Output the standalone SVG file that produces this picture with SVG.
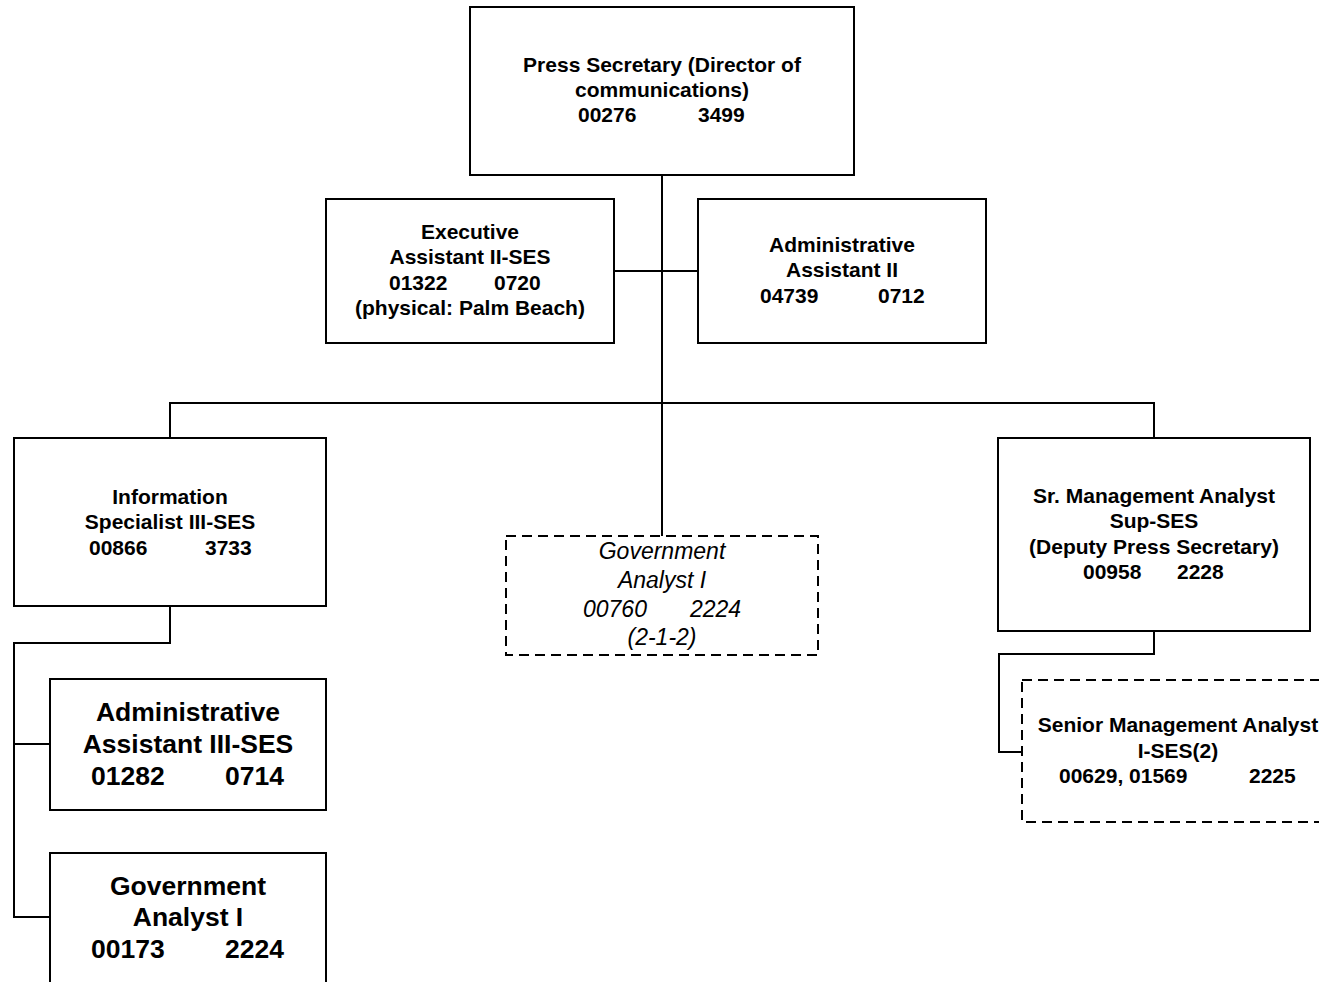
<svg xmlns="http://www.w3.org/2000/svg" width="1319" height="982" viewBox="0 0 1319 982">
<style>
.box{fill:#fff;stroke:#000;stroke-width:2}
.dash{fill:#fff;stroke:#000;stroke-width:2;stroke-dasharray:10 6}
.ln{fill:none;stroke:#000;stroke-width:2}
text{font-family:"Liberation Sans",Arial,sans-serif;fill:#000}
.b{font-weight:bold;font-size:21px;text-anchor:middle}
.bl{font-weight:bold;font-size:26.5px;text-anchor:middle}
.it{font-style:italic;font-size:23px;text-anchor:middle}
.s{text-anchor:start}
</style>
<rect width="1319" height="982" fill="#fff"/>
<g id="connectors">
<path class="ln" d="M662 175V536"/>
<path class="ln" d="M614 271H698"/>
<path class="ln" d="M170 438V403H1154V438"/>
<path class="ln" d="M170 606V643H14V917H50"/>
<path class="ln" d="M14 744H50"/>
<path class="ln" d="M1154 631V654H999V752H1022"/>
</g>
<g id="press-secretary">
<rect class="box" x="470" y="7" width="384" height="168"/>
<text class="b" x="662" y="72">Press Secretary (Director of</text>
<text class="b" x="662" y="97">communications)</text>
<text class="b s" y="122"><tspan x="578">00276</tspan><tspan x="698">3499</tspan></text>
</g>
<g id="executive-assistant">
<rect class="box" x="326" y="199" width="288" height="144"/>
<text class="b" x="470" y="239">Executive</text>
<text class="b" x="470" y="264">Assistant II-SES</text>
<text class="b s" y="290"><tspan x="389">01322</tspan><tspan x="494">0720</tspan></text>
<text class="b" x="470" y="315">(physical: Palm Beach)</text>
</g>
<g id="administrative-assistant-ii">
<rect class="box" x="698" y="199" width="288" height="144"/>
<text class="b" x="842" y="252">Administrative</text>
<text class="b" x="842" y="277">Assistant II</text>
<text class="b s" y="303"><tspan x="760">04739</tspan><tspan x="878">0712</tspan></text>
</g>
<g id="information-specialist">
<rect class="box" x="14" y="438" width="312" height="168"/>
<text class="b" x="170" y="504">Information</text>
<text class="b" x="170" y="529">Specialist III-SES</text>
<text class="b s" y="555"><tspan x="89">00866</tspan><tspan x="205">3733</tspan></text>
</g>
<g id="government-analyst-vacant">
<rect class="dash" x="506" y="536" width="312" height="119"/>
<text class="it" x="662" y="559">Government</text>
<text class="it" x="662" y="588">Analyst I</text>
<text class="it s" y="617"><tspan x="583">00760</tspan><tspan x="690">2224</tspan></text>
<text class="it" x="662" y="645">(2-1-2)</text>
</g>
<g id="sr-management-analyst">
<rect class="box" x="998" y="438" width="312" height="193"/>
<text class="b" x="1154" y="503">Sr. Management Analyst</text>
<text class="b" x="1154" y="528">Sup-SES</text>
<text class="b" x="1154" y="554">(Deputy Press Secretary)</text>
<text class="b s" y="579"><tspan x="1083">00958</tspan><tspan x="1177">2228</tspan></text>
</g>
<g id="senior-management-analyst">
<rect class="dash" x="1022" y="680" width="320" height="142"/>
<text class="b" x="1178" y="732">Senior Management Analyst</text>
<text class="b" x="1178" y="758">I-SES(2)</text>
<text class="b s" y="783"><tspan x="1059">00629, 01569</tspan><tspan x="1249">2225</tspan></text>
</g>
<g id="administrative-assistant-iii">
<rect class="box" x="50" y="679" width="276" height="131"/>
<text class="bl" x="188" y="721">Administrative</text>
<text class="bl" x="188" y="753">Assistant III-SES</text>
<text class="bl s" y="785"><tspan x="91">01282</tspan><tspan x="225">0714</tspan></text>
</g>
<g id="government-analyst-i">
<rect class="box" x="50" y="853" width="276" height="160"/>
<text class="bl" x="188" y="895">Government</text>
<text class="bl" x="188" y="926">Analyst I</text>
<text class="bl s" y="958"><tspan x="91">00173</tspan><tspan x="225">2224</tspan></text>
</g>
</svg>
